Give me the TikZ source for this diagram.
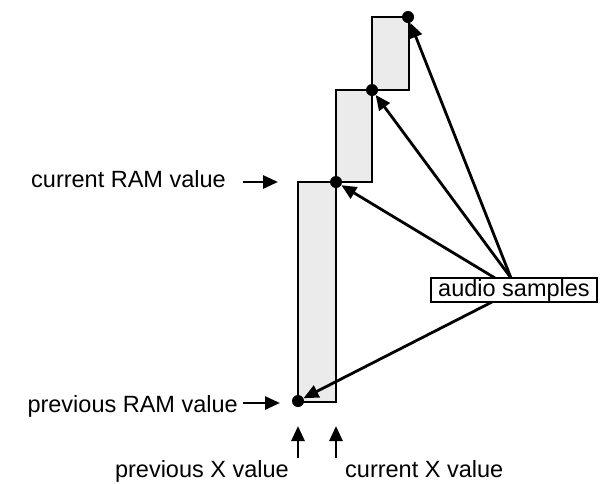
\documentclass[tikz,border=0pt]{standalone}
\usepackage{fontspec}
\setmainfont{Liberation Sans}
\usetikzlibrary{arrows.meta}
\definecolor{barfill}{HTML}{EBEBEB}
\tikzset{
  bar/.style={draw=black, fill=barfill, line width=2.4pt},
  sample/.style={circle, fill=black, inner sep=0pt, minimum size=12pt},
  pointer/.style={line width=2.8pt, -{Triangle[length=15pt,width=13pt]}},
  lbl/.style={inner sep=0pt, font=\fontsize{23.5}{28}\selectfont},
  tagbox/.style={draw=black, line width=2pt, inner sep=0pt, minimum width=166pt,
                 minimum height=24pt, font=\fontsize{23.5}{28}\selectfont}
}
\begin{document}
\begin{tikzpicture}[x=1pt, y=-1pt]
\useasboundingbox (0,0) rectangle (601,483);

% staircase of held values
\draw[bar] (298,182) rectangle (336,402);
\draw[bar] (336,90) rectangle (372,182);
\draw[bar] (372,17) rectangle (409,90);

% sample points
\node[sample] (p0) at (298,401) {};
\node[sample] (p1) at (336,182) {};
\node[sample] (p2) at (372,90) {};
\node[sample] (p3) at (408,17) {};

% audio samples box and the starts of its pointers
\node[tagbox] (audio) at (514,290) {audio samples};
\coordinate (a1) at (495,278);
\coordinate (a2) at (511,278);
\coordinate (a3) at (492,302);

\draw[pointer] (a1) -- (p1);
\draw[pointer] (a2) -- (p2);
\draw[pointer] (a2) -- (p3);
\draw[pointer] (a3) -- (p0);

% RAM value labels
\node[lbl, anchor=base east] (cur) at (226,187) {current RAM value};
\node[lbl, anchor=base east] (prev) at (238,412) {previous RAM value};
\coordinate (curA) at (243,182);
\coordinate (curB) at (278,182);
\coordinate (prevA) at (243,403);
\coordinate (prevB) at (280,403);
\draw[pointer] (curA) -- (curB);
\draw[pointer] (prevA) -- (prevB);

% X value labels
\node[lbl, anchor=base east] (px) at (289,477) {previous X value};
\node[lbl, anchor=base west] (cx) at (345,477) {current X value};
\coordinate (pxA) at (298,458);
\coordinate (pxB) at (298,426);
\coordinate (cxA) at (336,458);
\coordinate (cxB) at (336,426);
\draw[pointer] (pxA) -- (pxB);
\draw[pointer] (cxA) -- (cxB);
\end{tikzpicture}
\end{document}
